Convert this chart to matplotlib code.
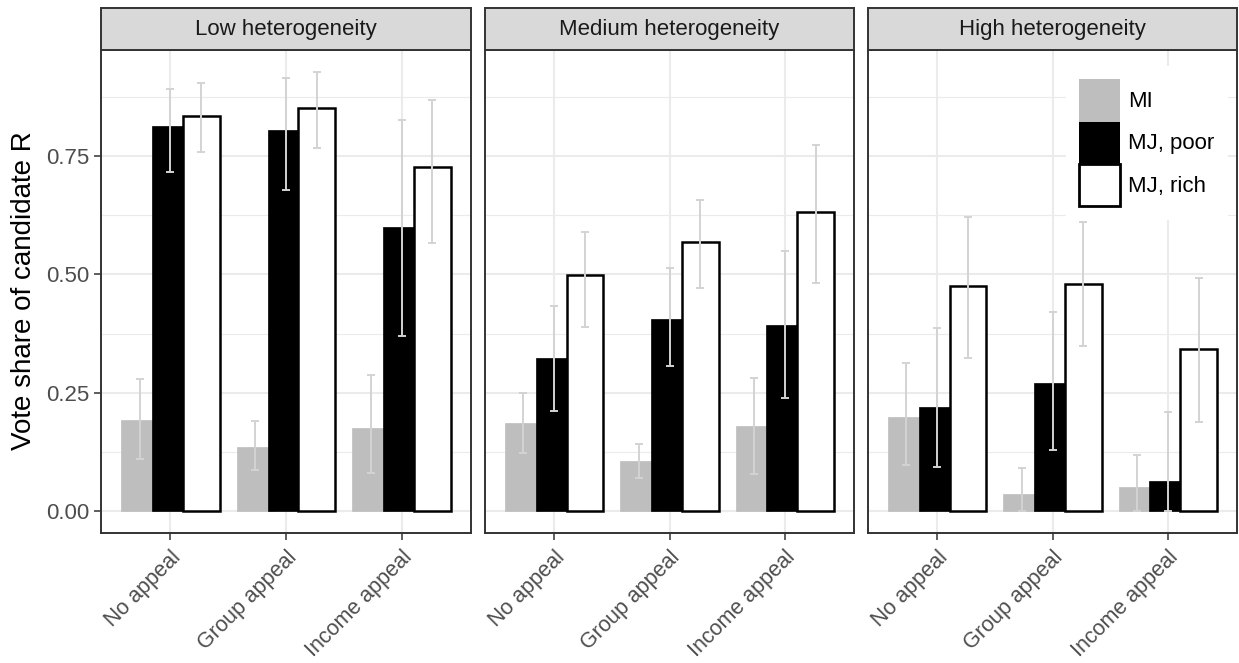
import matplotlib.pyplot as plt
import numpy as np
from matplotlib.patches import Patch
from matplotlib.transforms import ScaledTranslation

plt.rcParams["font.family"] = ["Liberation Sans", "DejaVu Sans"]

facets = ["Low heterogeneity", "Medium heterogeneity", "High heterogeneity"]
appeals = ["No appeal", "Group appeal", "Income appeal"]
groups = ["MI", "MJ, poor", "MJ, rich"]

# one row per facet, one value per appeal
share_mi = [[0.192, 0.136, 0.175], [0.186, 0.106, 0.180], [0.198, 0.035, 0.051]]
share_poor = [[0.814, 0.806, 0.600], [0.324, 0.405, 0.392], [0.220, 0.270, 0.063]]
share_rich = [[0.834, 0.852, 0.726], [0.499, 0.569, 0.631], [0.475, 0.480, 0.342]]

low_mi = [[0.109, 0.086, 0.081], [0.122, 0.069, 0.078], [0.097, 0.000, 0.000]]
high_mi = [[0.280, 0.190, 0.287], [0.250, 0.142, 0.282], [0.313, 0.091, 0.118]]
low_poor = [[0.717, 0.679, 0.370], [0.212, 0.306, 0.239], [0.094, 0.128, 0.000]]
high_poor = [[0.892, 0.914, 0.827], [0.433, 0.513, 0.550], [0.386, 0.420, 0.209]]
low_rich = [[0.759, 0.767, 0.566], [0.389, 0.472, 0.482], [0.323, 0.348, 0.188]]
high_rich = [[0.905, 0.928, 0.869], [0.590, 0.658, 0.774], [0.621, 0.610, 0.493]]

yticks = [0.0, 0.25, 0.5, 0.75]
ytick_labels = ["0.00", "0.25", "0.50", "0.75"]

W, H = 1239, 663
fig = plt.figure(figsize=(W / 100, H / 100), dpi=100)


def px_box(x0, y0, x1, y1):
    # pixel box (top-left origin) -> figure fraction rect
    return [x0 / W, 1 - y1 / H, (x1 - x0) / W, (y1 - y0) / H]


panel_x = [(101, 471), (485, 854), (868, 1237)]
strip_top, panel_top, panel_bottom = 8, 50, 533

fills = ["#BEBEBE", "black", "white"]
edges = ["#BEBEBE", "black", "black"]
offsets = [-0.267, 0.0, 0.267]
bar_w = 0.32
grid_c = "#EBEBEB"
dark = "#333333"
fs = 16

x = np.arange(1, len(appeals) + 1)
axes = []
for i, name in enumerate(facets):
    x0, x1 = panel_x[i]
    ax = fig.add_axes(px_box(x0, panel_top, x1, panel_bottom))
    axes.append(ax)

    series = [
        (share_mi[i], low_mi[i], high_mi[i]),
        (share_poor[i], low_poor[i], high_poor[i]),
        (share_rich[i], low_rich[i], high_rich[i]),
    ]
    for k, (vals, lo, hi) in enumerate(series):
        ax.bar(x + offsets[k], vals, width=bar_w, color=fills[k],
               edgecolor=edges[k], linewidth=1.8 if k == 2 else 0.5,
               zorder=2 + k)
    for k, (vals, lo, hi) in enumerate(series):
        vals = np.array(vals)
        yerr = [vals - np.array(lo), np.array(hi) - vals]
        ax.errorbar(x + offsets[k], vals, yerr=yerr, fmt="none",
                    ecolor="#D3D3D3", elinewidth=1.4, capsize=2.6,
                    capthick=1.4, zorder=6)

    ax.set_xlim(0.4, 3.6)
    ax.set_ylim(-0.0464, 0.974)
    ax.set_yticks(yticks)
    ax.set_yticks([0.125, 0.375, 0.625, 0.875], minor=True)
    ax.set_xticks(x)
    ax.grid(True, which="major", color=grid_c, linewidth=1.5, zorder=0)
    ax.grid(True, which="minor", axis="y", color=grid_c, linewidth=0.8, zorder=0)
    ax.set_axisbelow(True)
    ax.set_xticklabels(appeals, rotation=45, ha="right", va="top",
                       rotation_mode="anchor", fontsize=15.5, color="#4D4D4D")
    for lab in ax.get_xticklabels():
        lab.set_transform(lab.get_transform() +
                          ScaledTranslation(0.1, 0, fig.dpi_scale_trans))
    if i == 0:
        ax.set_yticklabels(ytick_labels, fontsize=fs, color="#4D4D4D")
    else:
        ax.set_yticklabels([])
    ax.tick_params(axis="both", which="major", length=5, width=1.1,
                   color=dark, pad=3.4)
    ax.tick_params(axis="x", pad=5)
    if i > 0:
        ax.tick_params(axis="y", which="major", length=0)
    ax.tick_params(axis="y", which="minor", length=0)
    for sp in ax.spines.values():
        sp.set_color(dark)
        sp.set_linewidth(1.4)
        sp.set_zorder(10)

    sax = fig.add_axes(px_box(x0, strip_top, x1, panel_top))
    sax.set_facecolor("#D9D9D9")
    sax.set_xticks([])
    sax.set_yticks([])
    for sp in sax.spines.values():
        sp.set_color(dark)
        sp.set_linewidth(1.4)
    sax.text(0.5, 0.5, name, ha="center", va="center", fontsize=fs,
             color="#1A1A1A", transform=sax.transAxes)

handles = [Patch(facecolor=fills[k], edgecolor=edges[k],
                 linewidth=2.0 if k == 2 else 0.0) for k in range(3)]
leg = axes[2].legend(handles, groups, loc="upper left",
                     bbox_to_anchor=(1066 / W, 1 - 66 / H),
                     bbox_transform=fig.transFigure,
                     fontsize=fs, frameon=True, fancybox=False,
                     framealpha=1, edgecolor="none", facecolor="white",
                     handlelength=1.85, handleheight=2.55, labelspacing=0.0,
                     handletextpad=0.36, borderpad=0.6, borderaxespad=0)
leg.set_zorder(20)

fig.text(24 / W, 1 - 291 / H, "Vote share of candidate R", rotation=90,
         ha="center", va="center", fontsize=20, color="black")

fig.savefig("out.png", dpi=100)
